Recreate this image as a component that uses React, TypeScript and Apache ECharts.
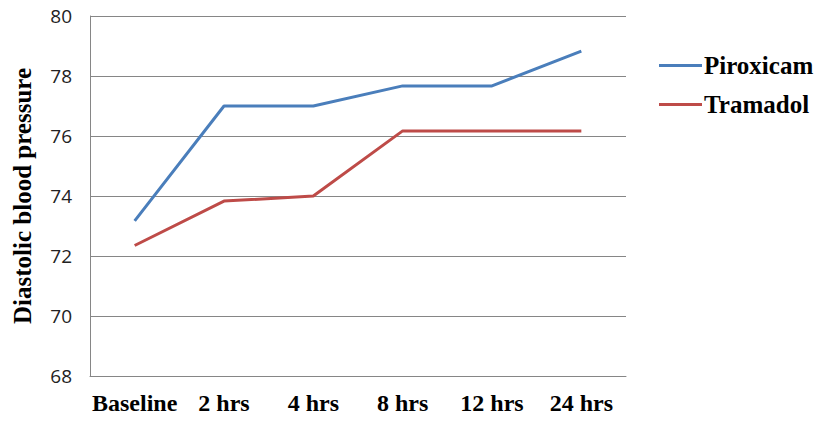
import React, { useEffect, useRef } from "react";
import * as echarts from "echarts";

const categories = ["Baseline", "2 hrs", "4 hrs", "8 hrs", "12 hrs", "24 hrs"];
const piroxicam = [73.17, 77.0, 77.0, 77.67, 77.67, 78.83];
const tramadol = [72.35, 73.83, 74.0, 76.17, 76.17, 76.17];
const yTicks = { min: 68, max: 80, interval: 2 };

export default function App() {
  const ref = useRef<HTMLDivElement>(null);
  useEffect(() => {
    if (!ref.current) return;
    const chart = echarts.init(ref.current, null, { renderer: "svg" });
    const serif = "'Liberation Serif', 'Times New Roman', serif";
    chart.setOption({
      animation: false,
      backgroundColor: "#ffffff",
      grid: { left: 90, right: 195, top: 16, bottom: 48 },
      legend: {
        orient: "vertical",
        left: 654,
        top: 48,
        itemWidth: 43,
        itemHeight: 3,
        itemGap: 14,
        icon: "rect",
        textStyle: { fontFamily: serif, fontWeight: "bold", fontSize: 25, color: "#000", padding: [0, 0, 0, -3] },
        data: ["Piroxicam", "Tramadol"],
      },
      xAxis: {
        type: "category",
        data: categories,
        boundaryGap: true,
        axisLine: { lineStyle: { color: "#868686", width: 1 } },
        axisTick: { show: false },
        axisLabel: { fontFamily: serif, fontWeight: "bold", fontSize: 24, color: "#000", margin: 15, interval: 0 },
      },
      yAxis: {
        type: "value",
        min: yTicks.min,
        max: yTicks.max,
        interval: yTicks.interval,
        name: "Diastolic blood pressure",
        nameLocation: "middle",
        nameGap: 55,
        nameTextStyle: { fontFamily: serif, fontWeight: "bold", fontSize: 25, color: "#000" },
        axisLine: { show: true, lineStyle: { color: "#868686", width: 1 } },
        axisTick: { show: false },
        axisLabel: { fontFamily: "'Open Sans', 'Liberation Sans', sans-serif", fontSize: 19, color: "#222", margin: 18 },
        splitLine: { lineStyle: { color: "#868686", width: 1 } },
      },
      series: [
        {
          name: "Piroxicam",
          type: "line",
          data: piroxicam,
          symbol: "none",
          color: "#4a7ebb",
          lineStyle: { width: 3, color: "#4a7ebb" },
        },
        {
          name: "Tramadol",
          type: "line",
          data: tramadol,
          symbol: "none",
          color: "#be4b48",
          lineStyle: { width: 3, color: "#be4b48" },
        },
      ],
    });
    return () => chart.dispose();
  }, []);
  return <div ref={ref} style={{ width: 821, height: 424, position: "absolute", left: 0, top: 0 }} />;
}
